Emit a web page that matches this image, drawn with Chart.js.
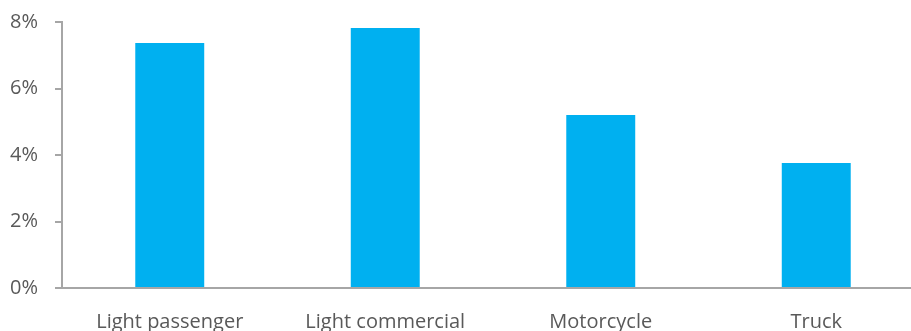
<!DOCTYPE html>
<html>
<head>
<meta charset="utf-8">
<script src="https://cdn.jsdelivr.net/npm/chart.js@4/dist/chart.umd.min.js"></script>
<style>
  html, body { margin: 0; padding: 0; background: #fff; overflow: hidden; }
  #wrap { width: 924px; height: 331px; position: relative; }
</style>
</head>
<body>
<div id="wrap"><canvas id="chart"></canvas></div>
<script>
// Vehicle segments and their growth rates (percent)
const categories = ['Light passenger', 'Light commercial', 'Motorcycle', 'Truck'];
const growthRates = [7.37, 7.82, 5.2, 3.76];
const yTicks = [0, 2, 4, 6, 8];

const axisGrey = '#a6a6a6';
const labelGrey = '#595959';
const labelFont = { family: 'Open Sans', size: 20 };

new Chart(document.getElementById('chart'), {
  type: 'bar',
  data: {
    labels: categories,
    datasets: [{
      data: growthRates,
      backgroundColor: '#00b0f0',
      borderWidth: 0,
      categoryPercentage: 1,
      barPercentage: 0.32
    }]
  },
  options: {
    responsive: true,
    maintainAspectRatio: false,
    animation: false,
    layout: { padding: { top: 22, left: 0, right: 0, bottom: 0 } },
    plugins: { legend: { display: false }, tooltip: { enabled: false } },
    scales: {
      x: {
        grid: { display: false },
        border: { display: true, color: axisGrey, width: 2 },
        ticks: { color: labelGrey, font: labelFont, padding: 14 },
        afterFit: s => { s.height = 43; }
      },
      y: {
        min: 0,
        max: 8,
        afterBuildTicks: s => { s.ticks = yTicks.map(v => ({ value: v })); },
        grid: { drawOnChartArea: false, tickLength: 7, color: axisGrey, lineWidth: 2 },
        border: { display: true, color: axisGrey, width: 2 },
        ticks: {
          color: labelGrey,
          font: labelFont,
          padding: 17,
          callback: v => v + '%'
        },
        afterFit: s => {
          s.width = 62;
          s.paddingTop = 0;
          s.paddingBottom = 0;
        }
      }
    }
  }
});
</script>
</body>
</html>
